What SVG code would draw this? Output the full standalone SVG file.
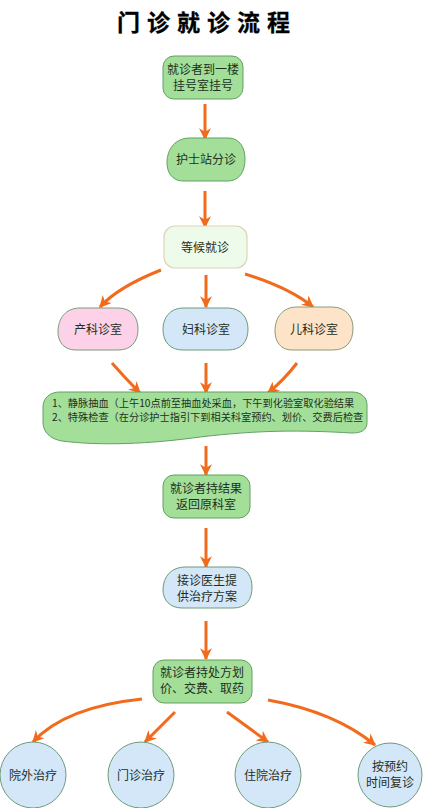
<svg xmlns="http://www.w3.org/2000/svg" width="425" height="808" viewBox="0 0 425 808">
<defs>
<marker id="ah" viewBox="0 0 10 10" refX="9" refY="5" markerWidth="4" markerHeight="4" orient="auto" markerUnits="strokeWidth">
<path d="M0,0 L10,5 L0,10 L3,5 Z" fill="#f26b1d"/>
</marker>
<style>
.c{fill:none;stroke:#f26b1d;stroke-width:3;marker-end:url(#ah)}
.t{font-family:"Noto Sans CJK SC","Noto Sans",sans-serif;font-size:12px;fill:#1f2f1f;text-anchor:middle}
.s{font-family:"Noto Sans CJK SC","Noto Sans",sans-serif;font-size:10.2px;fill:#1f2f1f}
.g{fill:#a3df98;stroke:#62a062;stroke-width:1}
.lg{fill:#eefbea;stroke:#d9d6b8;stroke-width:1.2}
.pk{fill:#fdd2e8;stroke:#7a9a7a;stroke-width:1}
.bl{fill:#d3e7f9;stroke:#6f9a7a;stroke-width:1}
.pc{fill:#fde3c8;stroke:#8a9a7a;stroke-width:1}
</style>
</defs>
<rect width="425" height="808" fill="#ffffff"/>
<text x="117" y="31" font-family="'Noto Sans CJK SC',sans-serif" font-size="23" font-weight="bold" letter-spacing="7" fill="#000" stroke="#000" stroke-width="0.3">门诊就诊流程</text>

<g id="connectors">
<line class="c" x1="205" y1="104" x2="205" y2="139"/>
<line class="c" x1="205" y1="191" x2="205" y2="227"/>
<path class="c" d="M161,270 Q118,287 100,307"/>
<line class="c" x1="206" y1="275" x2="206" y2="307"/>
<path class="c" d="M245,274 Q290,288 313,307"/>
<path class="c" d="M112,363 Q127,380 140,393"/>
<line class="c" x1="206" y1="363" x2="206" y2="393"/>
<path class="c" d="M297,363 Q284,380 268,393"/>
<line class="c" x1="206" y1="446" x2="206" y2="475"/>
<line class="c" x1="206" y1="528" x2="206" y2="567"/>
<line class="c" x1="206" y1="621" x2="206" y2="659"/>
<path class="c" d="M142,699 Q65,707 33,742"/>
<line class="c" x1="175" y1="712" x2="145" y2="742"/>
<line class="c" x1="227" y1="712" x2="268" y2="742"/>
<path class="c" d="M268,700 Q335,712 375,745"/>
</g>

<g id="n1">
<rect class="g" x="163" y="56" width="80" height="43" rx="11"/>
<text class="t" x="203" y="74">就诊者到一楼</text>
<text class="t" x="203" y="90">挂号室挂号</text>
</g>

<g id="n2">
<path class="g" d="M190,138 L228,138 C240,138 245,148 245,159 C245,172 239,181 228,181 L183,181 C172,181 167,172 167,163 C167,148 176,138 190,138 Z"/>
<text class="t" x="206" y="164">护士站分诊</text>
</g>

<g id="n3">
<rect class="lg" x="164" y="226" width="83" height="42" rx="11"/>
<text class="t" x="205" y="252">等候就诊</text>
</g>

<g id="n4">
<path class="pk" d="M80,308 L118,308 C132,308 138,318 138,329 C138,342 131,350 118,350 L76,350 C64,350 58,342 58,332 C58,318 66,308 80,308 Z"/>
<text class="t" x="98" y="334">产科诊室</text>
</g>

<g id="n5">
<path class="bl" d="M183,308 L228,308 C241,308 248,318 248,329 C248,342 241,350 228,350 L183,350 C170,350 163,342 163,329 C163,318 170,308 183,308 Z"/>
<text class="t" x="206" y="334">妇科诊室</text>
</g>

<g id="n6">
<path class="pc" d="M297,307 L332,307 C346,307 353,317 353,328 C353,342 346,350 333,350 L292,350 C281,350 275,342 275,331 C275,317 283,307 297,307 Z"/>
<text class="t" x="314" y="334">儿科诊室</text>
</g>

<g id="n7">
<path class="g" d="M60,392 L352,392 C362,392 367,398 367,405 L367,422 C367,430 362,433 352,433 C300,430 260,430 200,437 C150,444 100,446 62,441 C50,439 43,432 43,422 L43,407 C43,398 50,392 60,392 Z"/>
<text class="s" x="52" y="407">1、静脉抽血（上午10点前至抽血处采血，下午到化验室取化验结果</text>
<text class="s" x="52" y="421">2、特殊检查（在分诊护士指引下到相关科室预约、划价、交费后检查</text>
</g>

<g id="n8">
<rect class="g" x="163" y="475" width="87" height="43" rx="11"/>
<text class="t" x="206" y="493">就诊者持结果</text>
<text class="t" x="206" y="509">返回原科室</text>
</g>

<g id="n9">
<path class="bl" d="M185,567 L235,567 C247,567 252,577 252,587 C252,600 246,608 233,608 L182,608 C170,608 163,600 163,590 C163,576 172,567 185,567 Z"/>
<text class="t" x="207" y="585">接诊医生提</text>
<text class="t" x="207" y="601">供治疗方案</text>
</g>

<g id="n10">
<rect class="g" x="153" y="660" width="99" height="43" rx="11"/>
<text class="t" x="202" y="677">就诊者持处方划</text>
<text class="t" x="202" y="693">价、交费、取药</text>
</g>

<g id="n11">
<circle class="bl" cx="33" cy="775" r="33"/>
<text class="t" x="33" y="780">院外治疗</text>
</g>
<g id="n12">
<circle class="bl" cx="141" cy="775" r="33"/>
<text class="t" x="141" y="780">门诊治疗</text>
</g>
<g id="n13">
<circle class="bl" cx="268" cy="775" r="33"/>
<text class="t" x="268" y="780">住院治疗</text>
</g>
<g id="n14">
<circle class="bl" cx="390" cy="775" r="32"/>
<text class="t" x="390" y="771">按预约</text>
<text class="t" x="390" y="787">时间复诊</text>
</g>
</svg>
